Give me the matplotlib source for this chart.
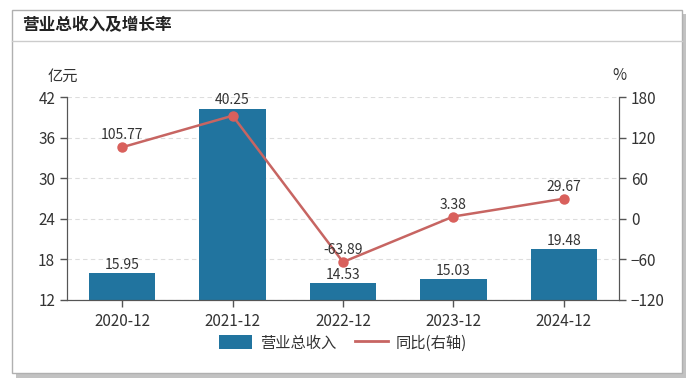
import matplotlib
matplotlib.use("Agg")
import matplotlib.pyplot as plt
from matplotlib.patches import Rectangle
from matplotlib.lines import Line2D

plt.rcParams['font.family'] = ['Noto Sans CJK SC', 'DejaVu Sans']

# data
periods = ['2020-12', '2021-12', '2022-12', '2023-12', '2024-12']
revenue = [15.95, 40.25, 14.53, 15.03, 19.48]          # 亿元
growth = [105.77, 152.35, -63.89, 3.38, 29.67]         # %
growth_labels = ['105.77', None, '-63.89', '3.38', '29.67']
left_ticks = [12, 18, 24, 30, 36, 42]
right_ticks = [-120, -60, 0, 60, 120, 180]

bar_color = '#21749f'
line_color = '#c76562'
marker_color = '#d9605c'
text_color = '#333333'
axis_color = '#555555'

fig = plt.figure(figsize=(7, 3.85), dpi=100)

# panel with shadow
fig.patches.append(Rectangle((16 / 700, 1 - 378 / 385), 670 / 700, 364 / 385,
                             transform=fig.transFigure, facecolor='#9a9a9a',
                             edgecolor='none', alpha=0.6, zorder=0))
fig.patches.append(Rectangle((12 / 700, 1 - 373 / 385), 670 / 700, 363 / 385,
                             transform=fig.transFigure, facecolor='white',
                             edgecolor='#b0b0b0', linewidth=1, zorder=1))
fig.add_artist(Line2D([12 / 700, 682 / 700], [1 - 41 / 385, 1 - 41 / 385],
                      transform=fig.transFigure, color='#cccccc', linewidth=1))
fig.text(22 / 700, 1 - 25 / 385, '营业总收入及增长率', fontsize=12,
         fontweight='bold', color='#222222', va='center', ha='left')

ax = fig.add_axes([67 / 700, 1 - 300 / 385, 552 / 700, 203 / 385])
ax.set_zorder(2)
ax.patch.set_visible(False)
ax2 = ax.twinx()

x = list(range(len(periods)))
ax.bar(x, revenue, width=0.6, color=bar_color, zorder=2)
for xi, v in zip(x, revenue):
    ax.text(xi, v + 0.2, f'{v:.2f}', ha='center', va='bottom',
            fontsize=10, color=text_color, zorder=5)

ax.set_ylim(12, 42)
ax.set_yticks(left_ticks)
ax.set_xlim(-0.5, len(periods) - 0.5)
ax.set_xticks(x)
ax.set_xticklabels(periods)
ax.yaxis.grid(True, linestyle=(0, (4, 3)), color='#dddddd', linewidth=0.8)
ax.set_axisbelow(True)

ax2.plot(x, growth, color=line_color, linewidth=1.8, marker='o',
         markersize=6.5, markerfacecolor=marker_color,
         markeredgecolor=marker_color, zorder=3)
for xi, v, lab in zip(x, growth, growth_labels):
    if lab:
        ax2.text(xi, v + 7, lab, ha='center', va='bottom',
                 fontsize=10, color=text_color)
ax2.set_ylim(-120, 180)
ax2.set_yticks(right_ticks)

for a in (ax, ax2):
    a.spines['top'].set_visible(False)
    for s in ('left', 'right', 'bottom'):
        a.spines[s].set_color(axis_color)
    a.tick_params(colors=axis_color, labelcolor='#333333', labelsize=11,
                  length=5, width=1)
ax.tick_params(axis='x', labelsize=11, pad=4)

fig.text(63 / 700, 1 - 76 / 385, '亿元', fontsize=11, color='#333333',
         ha='center', va='center')
fig.text(619 / 700, 1 - 76 / 385, '%', fontsize=11, color='#333333',
         ha='center', va='center')

# legend
handles = [Rectangle((0, 0), 1, 1, facecolor=bar_color, edgecolor='none'),
           Line2D([], [], color=line_color, linewidth=2)]
fig.legend(handles, ['营业总收入', '同比(右轴)'], loc='center',
           bbox_to_anchor=(343 / 700, 1 - 343 / 385), ncol=2, frameon=False,
           fontsize=11, handlelength=2.2, handleheight=1.0,
           columnspacing=1.2, handletextpad=0.5,
           labelcolor='#333333')

fig.savefig('out.png', dpi=100)
